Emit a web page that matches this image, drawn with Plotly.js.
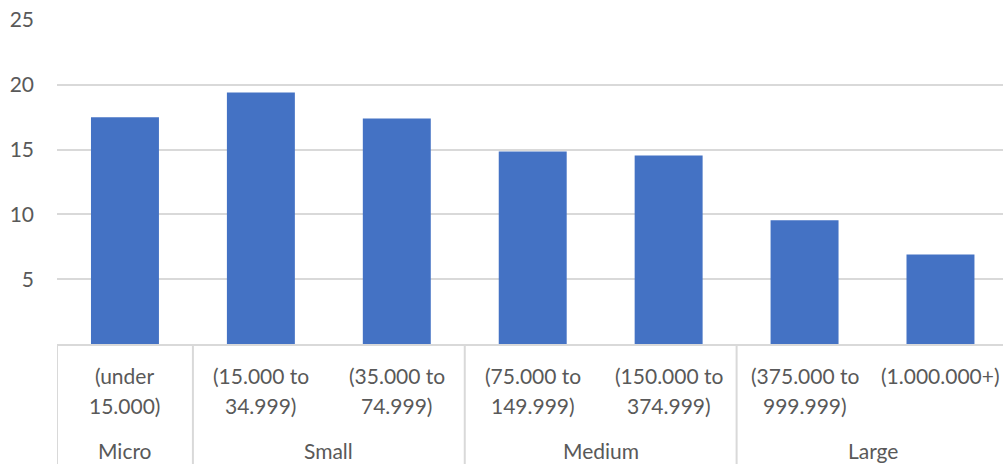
<!DOCTYPE html>
<html><head><meta charset="utf-8">
<script src="https://cdn.plot.ly/plotly-3.0.1.min.js"></script>
<style>html,body{margin:0;padding:0;background:#fff}</style>
</head><body>
<div id="chart" style="width:1003px;height:464px"></div>
<script>
const groups = ["Micro", "Small", "Small", "Medium", "Medium", "Large", "Large"];
const subLabels = ["(under\n15.000)", "(15.000 to\n34.999)", "(35.000 to\n74.999)", "(75.000 to\n149.999)", "(150.000 to\n374.999)", "(375.000 to\n999.999)", "(1.000.000+)"];
const values = [17.5, 19.4, 17.4, 14.85, 14.55, 9.55, 6.9];

const idx = values.map((v, i) => i);
const font = "Lato, 'Open Sans', sans-serif";
const txtColor = "#595959";
const lineColor = "#d9d9d9";

const trace = {
  type: "bar", x: idx, y: values, width: 0.5,
  marker: {color: "#4472C4", line: {width: 0}},
  hoverinfo: "y"
};

const annotations = [];
const shapes = [];
// sub labels (two lines each)
subLabels.forEach((s, i) => {
  const lines = s.split("\n");
  lines.forEach((ln, k) => {
    annotations.push({x: i, xref: "x", y: 0, yref: "paper", text: ln, showarrow: false,
      xanchor: "center", yanchor: "middle", yshift: -31 - 30 * k,
      font: {family: font, size: 21, color: txtColor}});
  });
});
// group labels and separators
let start = 0;
for (let i = 1; i <= groups.length; i++) {
  if (i === groups.length || groups[i] !== groups[start]) {
    annotations.push({x: (start + i - 1) / 2, xref: "x", y: 0, yref: "paper", text: groups[start], showarrow: false,
      xanchor: "center", yanchor: "middle", yshift: -106,
      font: {family: font, size: 21, color: txtColor}});
    shapes.push({type: "line", xref: "x", yref: "paper", x0: start - 0.5, x1: start - 0.5, y0: 0, y1: -0.4,
      line: {color: lineColor, width: 2}});
    start = i;
  }
}

const layout = {
  width: 1003, height: 464,
  margin: {l: 57, r: 0, t: 20, b: 120},
  paper_bgcolor: "#fff", plot_bgcolor: "#fff",
  showlegend: false, bargap: 0.5,
  xaxis: {range: [-0.5, 6.46], showticklabels: false, showgrid: false, zeroline: false,
    showline: true, linecolor: lineColor, linewidth: 2, ticks: ""},
  yaxis: {range: [0, 25], dtick: 5, tick0: 0, showgrid: true, gridcolor: lineColor, gridwidth: 2,
    zeroline: false, showline: false, ticks: "", ticklabelstandoff: 22,
    tickfont: {family: font, size: 21, color: txtColor},
    tickvals: [5, 10, 15, 20, 25]},
  annotations: annotations, shapes: shapes,
  font: {family: font, color: txtColor}
};

Plotly.newPlot("chart", [trace], layout, {displayModeBar: false, staticPlot: true});
</script>
</body></html>
